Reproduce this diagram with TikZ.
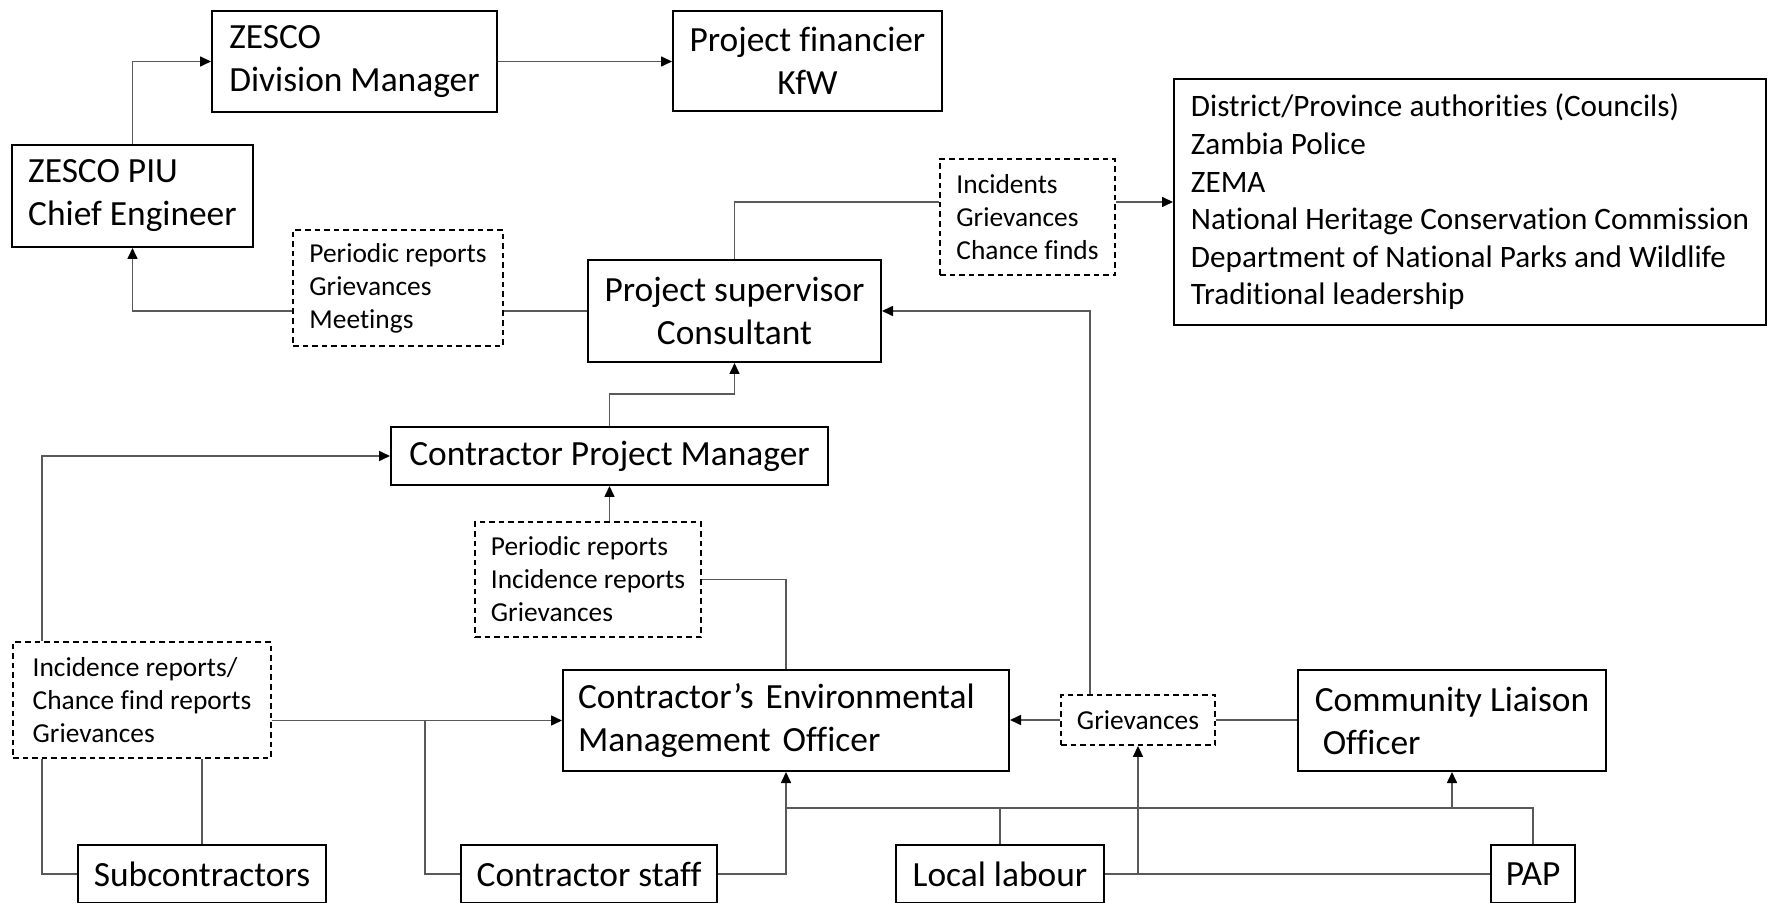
\documentclass[tikz,border=0pt]{standalone}
\usepackage{fontspec}
\setmainfont{Carlito}[Ligatures=NoCommon]
\usetikzlibrary{arrows.meta}

\begin{document}
\begin{tikzpicture}[x=0.5pt, y=-0.5pt,
    box/.style={draw, line width=1pt, inner xsep=7pt, inner ysep=0pt,
        font=\fontsize{17.7pt}{21.5pt}\selectfont},
    note/.style={draw, dash pattern=on 2.8pt off 2pt, line width=0.9pt,
        inner xsep=7pt, inner ysep=0pt, font=\fontsize{13.7pt}{16.5pt}\selectfont},
    link/.style={draw=black!65, line width=0.8pt},
    arr/.style={link, -{Triangle[length=5.5pt, width=5pt, color=black]}}]
    \useasboundingbox (0,0) rectangle (1768,903);

    % top row
    \node[box, minimum width=142.5pt, minimum height=50.5pt, align=left] (dm) at (354.5,61.5) {ZESCO\\Division Manager};
    \node[box, minimum width=134.5pt, minimum height=50pt, align=center] (kfw) at (807.5,61) {Project financier\\KfW};
    \node[box, minimum width=120.5pt, minimum height=51pt, align=left] (piu) at (132.5,196) {ZESCO PIU\\Chief Engineer};
    \node[box, minimum width=296pt, minimum height=123pt, align=left,
        font=\fontsize{15.6pt}{18.8pt}\selectfont] (auth) at (1470,202)
        {District/Province authorities (Councils)\\Zambia Police\\ZEMA\\National Heritage Conservation Commission\\Department of National Parks and Wildlife\\Traditional leadership};
    \node[note, minimum width=87.5pt, minimum height=58pt, align=left] (inc) at (1027.5,217) {Incidents\\Grievances\\Chance finds};
    \node[note, minimum width=105pt, minimum height=58pt, align=left] (rep1) at (398,288) {Periodic reports\\Grievances\\Meetings};
    \node[box, minimum width=146.5pt, minimum height=51pt, align=center] (sup) at (734.5,311) {Project supervisor\\Consultant};

    % middle
    \node[box, minimum width=218.5pt, minimum height=29pt] (cpm) at (609.5,456) {Contractor Project Manager};
    \node[note, minimum width=113pt, minimum height=57.5pt, align=left] (rep2) at (588,579.5) {Periodic reports\\Incidence reports\\Grievances};
    \node[note, minimum width=129pt, minimum height=58pt, align=left] (rep3) at (142,700) {Incidence reports/\\Chance find reports\\Grievances};
    \node[box, text width=208pt, inner xsep=7.5pt, minimum height=50.5pt, align=left] (emo) at (786,720.5) {Contractor’s Environmental\\Management Officer};
    \node[note, minimum width=77pt, minimum height=25pt] (griev) at (1138,720) {Grievances};
    \node[box, minimum width=154pt, minimum height=50.5pt, align=left] (clo) at (1452,720.5) {Community Liaison\\\hspace*{4pt}Officer};

    % bottom row
    \node[box, minimum width=124pt, minimum height=29pt] (sub) at (202,874) {Subcontractors};
    \node[box, minimum width=128pt, minimum height=29pt] (staff) at (589,874) {Contractor staff};
    \node[box, minimum width=104pt, minimum height=29pt] (local) at (1000,874) {Local labour};
    \node[box, minimum width=42pt, minimum height=29pt] (pap) at (1533,874) {PAP};

    \coordinate (mid) at (425,720.5);
    \coordinate (bus) at (786,808);

    % connectors
    \draw[arr] (piu.north) |- (dm.west);
    \draw[arr] (dm.east) -- (kfw.west |- dm.east);
    \draw[link] (sup.west) -- (sup.west -| rep1.east);
    \draw[arr] (sup.west -| rep1.west) -| (piu.south);
    \draw[link] (sup.north) |- (inc.west |- auth.west);
    \draw[arr] (inc.east |- auth.west) -- (auth.west);
    \draw[arr] ([xshift=-24pt]griev.north) |- (sup.east);
    \draw[arr] (cpm.north) -- ++(0,-32) -| (sup.south);
    \draw[arr] (rep2.north -| cpm.south) -- (cpm.south);
    \draw[link] (rep2.east) -| (emo.north);
    \draw[arr] ([xshift=15pt]rep3.north west) |- (cpm.west);
    \draw[arr] (rep3.east |- emo.west) -- (emo.west);
    \draw[link] (staff.west) -| (mid);
    \draw[link] (sub.west) -| ([xshift=15pt]rep3.south west);
    \draw[link] (sub.north) -- (sub.north |- rep3.south);
    \draw[arr] (staff.east) -| (emo.south);
    \draw[link] (pap.north) |- (bus);
    \draw[link] (local.north) -- (local.north |- bus);
    \draw[arr] (clo.south |- bus) -- (clo.south);
    \draw[link] (local.east) -- (pap.west);
    \draw[arr] (griev.south |- local.east) -- (griev.south);
    \draw[arr] (griev.west) -- (griev.west -| emo.east);
    \draw[link] (griev.east) -- (griev.east -| clo.west);
\end{tikzpicture}
\end{document}
